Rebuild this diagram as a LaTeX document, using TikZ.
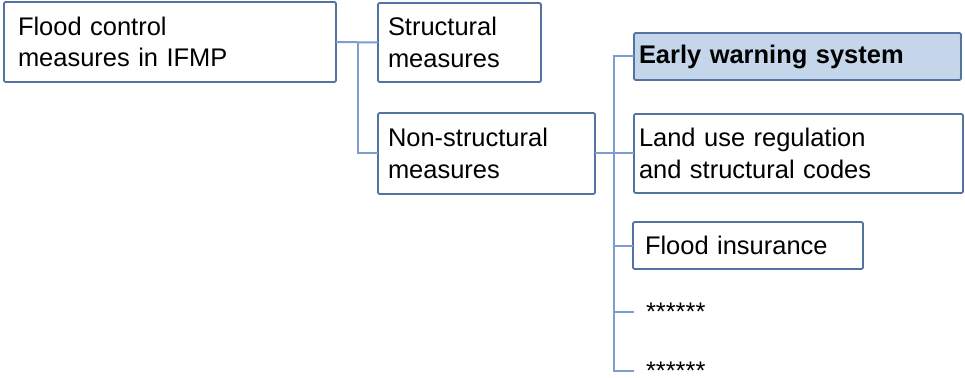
\documentclass[tikz,border=0pt]{standalone}
\usepackage{fontspec}
\setmainfont{Liberation Sans}

\definecolor{boxblue}{RGB}{84,114,162}
\definecolor{linkblue}{RGB}{125,157,206}
\definecolor{boxfill}{RGB}{197,213,234}

\newcommand{\measfont}{\fontsize{19.1pt}{23.5pt}\selectfont}

\tikzset{
    box/.style={draw=boxblue, line width=1.4pt, rounded corners=1pt, fill=white,
        font=\measfont, align=left, anchor=north west, outer sep=0pt, inner xsep=7.5pt},
    stars/.style={font=\measfont, anchor=west, outer sep=0pt, inner xsep=9pt, inner ysep=0pt},
    link/.style={draw=linkblue, line width=1.5pt}
}

\begin{document}
\begin{tikzpicture}[x=0.75pt, y=-0.75pt]

        \useasboundingbox (0,0) rectangle (965,378);

        % first level
        \node[box, inner xsep=10.5pt, text width=228pt, minimum height=60pt] (ifmp) at (4,2)
            {Flood control\\measures in IFMP};

        % second level
        \node[box, text width=107.25pt, minimum height=59.25pt] (struct) at (378,3)
            {Structural\\measures};
        \node[box, text width=147.75pt, minimum height=60.75pt] (nonstruct) at (378,113)
            {Non-structural\\measures};

        % non-structural measures
        \node[box, fill=boxfill, inner xsep=3.75pt, text width=237.75pt, minimum height=35.25pt] (warning) at (634,33)
            {\textbf{Early warning system}};
        \node[box, inner xsep=3.75pt, text width=239.25pt, minimum height=59.25pt] (landuse) at (634,114)
            {Land use regulation\\and structural codes};
        \node[box, inner xsep=9pt, text width=154.5pt, minimum height=35.25pt] (insurance) at (633,222)
            {Flood insurance};
        \node[stars] (more1) at (634,312) {******};
        \node[stars] (more2) at (634,371) {******};

        % connectors
        \coordinate (trunk1) at (358,0);
        \coordinate (trunk2) at (614,0);

        \draw[link] (ifmp.east) -- (struct.west);
        \draw[link] (trunk1 |- ifmp.east) |- (nonstruct.west);

        \draw[link] (warning.west) -| (trunk2 |- more2.west) -- (more2.west);
        \draw[link] (nonstruct.east) -- (landuse.west);
        \draw[link] (trunk2 |- insurance.west) -- (insurance.west);
        \draw[link] (trunk2 |- more1.west) -- (more1.west);
    \end{tikzpicture}
\end{document}
